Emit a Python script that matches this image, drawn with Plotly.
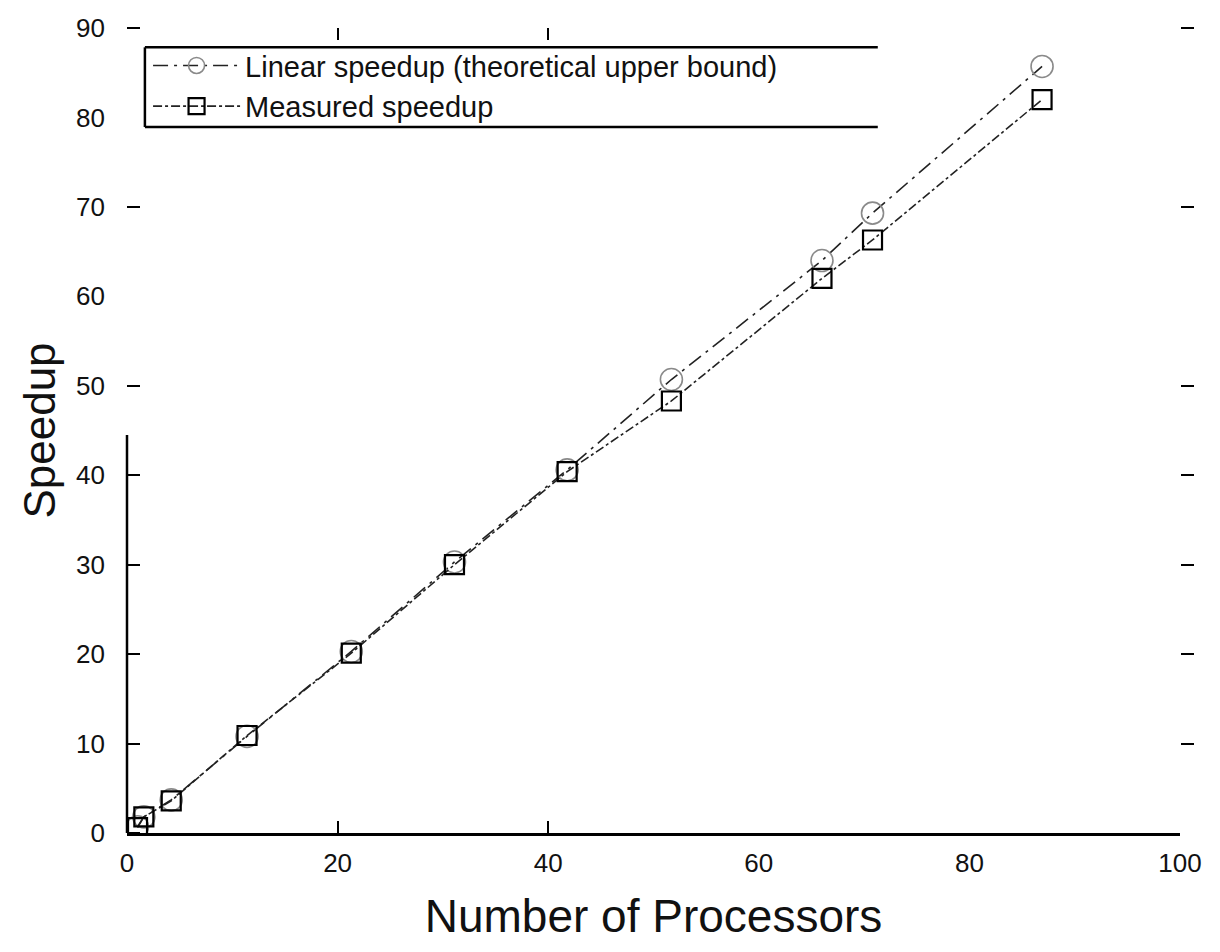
import plotly.graph_objects as go

# ---- data ----
processors = [1.0, 1.6, 4.2, 11.4, 21.3, 31.1, 41.8, 51.7, 66.0, 70.8, 86.9]
linear_speedup = [0.7, 1.8, 3.7, 10.8, 20.3, 30.3, 40.6, 50.7, 64.0, 69.3, 85.7]
measured_speedup = [0.6, 1.8, 3.6, 10.9, 20.1, 30.0, 40.4, 48.3, 62.0, 66.3, 82.0]

x_tick_labels = [0, 20, 40, 60, 80, 100]
y_tick_labels = [0, 10, 20, 30, 40, 50, 60, 70, 80, 90]
x_visible_ticks = [20, 40]
x_top_ticks = [0, 20, 40]
y_visible_ticks = [0, 10, 20, 30, 40, 50, 70, 90]
y_right_ticks = [10, 20, 30, 40, 50, 70, 90]
left_spine_top = 44.5

FONT = "Liberation Sans, Arial, Helvetica, sans-serif"

fig = go.Figure()
fig.add_trace(go.Scatter(
    x=processors, y=linear_speedup, mode="lines+markers",
    name="Linear speedup (theoretical upper bound)",
    line=dict(color="#222222", width=1.6, dash="longdashdot"),
    marker=dict(symbol="circle-open", size=22, color="#8a8a8a",
                line=dict(width=1.6, color="#8a8a8a")),
))
fig.add_trace(go.Scatter(
    x=processors, y=measured_speedup, mode="lines+markers",
    name="Measured speedup",
    line=dict(color="#222222", width=1.6, dash="dashdot"),
    marker=dict(symbol="square-open", size=19, color="#000000",
                line=dict(width=2.2, color="#000000")),
))

fig.update_layout(
    width=1220, height=952,
    paper_bgcolor="white", plot_bgcolor="white",
    margin=dict(l=119, r=48, t=20, b=127, autoexpand=False),
    font=dict(family=FONT, color="#111111", size=26),
    showlegend=True,
    legend=dict(
        x=0.02, y=0.985, xanchor="left", yanchor="top",
        bgcolor="rgba(0,0,0,0)", borderwidth=0,
        font=dict(family=FONT, size=29, color="#111111"),
        itemwidth=87, tracegroupgap=0,
    ),
    xaxis=dict(
        range=[0, 100], tickvals=x_tick_labels, ticks="", automargin=False,
        showgrid=False, zeroline=False,
        showline=True, linecolor="black", linewidth=2.5,
        tickfont=dict(size=26), ticklabelstandoff=5,
        minor=dict(tickvals=x_visible_ticks, ticks="inside", ticklen=12,
                   tickwidth=2, tickcolor="black", showgrid=False),
        title=dict(text="Number of Processors", font=dict(size=46), standoff=23),
    ),
    yaxis=dict(
        range=[0, 90], tickvals=y_tick_labels, ticks="", automargin=False,
        showgrid=False, zeroline=False, showline=False,
        tickfont=dict(size=26), ticklabelstandoff=21,
        minor=dict(tickvals=y_visible_ticks, ticks="inside", ticklen=13,
                   tickwidth=2, tickcolor="black", showgrid=False),
        title=dict(text="Speedup", font=dict(size=44), standoff=6),
    ),
    xaxis2=dict(
        range=[0, 100], overlaying="x", side="top", anchor="y", automargin=False,
        tickvals=x_top_ticks, ticks="inside", ticklen=12, tickwidth=2,
        tickcolor="black", showticklabels=False, showgrid=False,
        zeroline=False, showline=False,
    ),
    yaxis2=dict(
        range=[0, 90], overlaying="y", side="right", anchor="x", automargin=False,
        tickvals=y_right_ticks, ticks="outside", ticklen=13, tickwidth=2,
        tickcolor="black", showticklabels=False, showgrid=False,
        zeroline=False, showline=False,
    ),
)

# invisible trace so the overlay axes are drawn
fig.add_trace(go.Scatter(x=[None], y=[None], xaxis="x2", yaxis="y2",
                         showlegend=False, hoverinfo="skip"))

# partial left spine
fig.add_shape(type="line", xref="paper", yref="y", x0=0, x1=0,
              y0=0, y1=left_spine_top, line=dict(color="black", width=2.5))

# legend frame (top, bottom, left; open on the right)
lx0, lx1, ly0, ly1 = 0.017, 0.713, 0.877, 0.976
for sx0, sy0, sx1, sy1 in [(lx0, ly1, lx1, ly1), (lx0, ly0, lx1, ly0), (lx0, ly0, lx0, ly1)]:
    fig.add_shape(type="line", xref="paper", yref="paper",
                  x0=sx0, y0=sy0, x1=sx1, y1=sy1,
                  line=dict(color="black", width=2.5))

fig.write_html("out.html")
